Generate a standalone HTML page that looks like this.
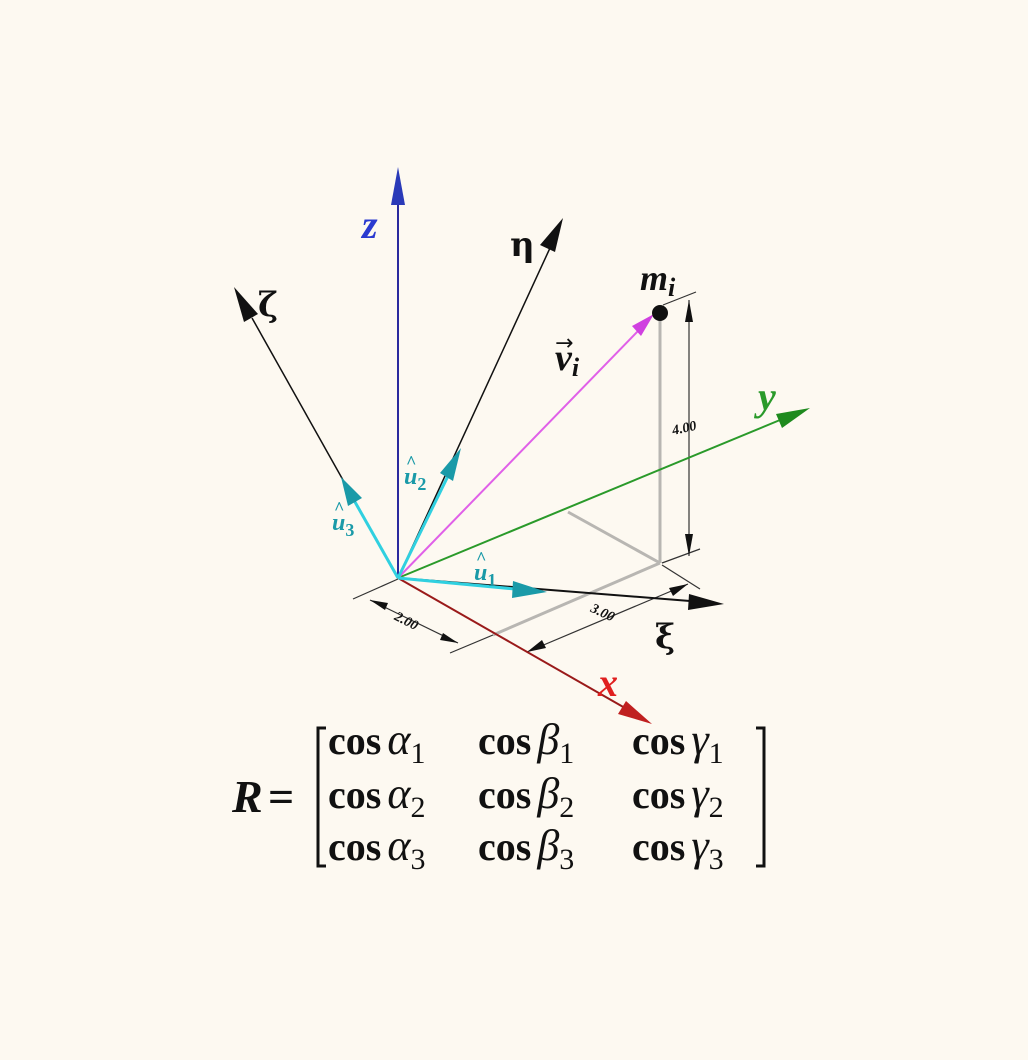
<!DOCTYPE html>
<html><head><meta charset="utf-8"><style>
html,body{margin:0;padding:0;background:#fdf9f1;}
svg{display:block}
</style></head><body>
<svg width="1028" height="1060" viewBox="0 0 1028 1060" xmlns="http://www.w3.org/2000/svg">
<rect width="1028" height="1060" fill="#fdf9f1"/>
<g stroke="#b8b6b2" stroke-width="3" fill="none">
<line x1="660" y1="316" x2="660" y2="563"/>
<line x1="660" y1="563" x2="568" y2="512"/>
<line x1="660" y1="563" x2="493" y2="635"/>
</g>
<g stroke="#333" stroke-width="1.2" fill="none">
<line x1="663" y1="305" x2="696" y2="292"/>
<line x1="662" y1="563" x2="700" y2="549"/>
<line x1="689" y1="300" x2="689" y2="556"/>
<line x1="353" y1="599" x2="398" y2="579"/>
<line x1="493" y1="635" x2="450" y2="653"/>
<line x1="370" y1="600" x2="458" y2="643"/>
<line x1="662" y1="565" x2="700" y2="589"/>
<line x1="527" y1="652" x2="688" y2="584"/>
</g>
<g fill="#111">
<polygon points="689,300 685,322 693,322"/>
<polygon points="689,556 685,534 693,534"/>
<polygon points="370,600 388,603 385,610"/>
<polygon points="458,643 440,640 443,633"/>
<polygon points="527,652 542,640 546,648"/>
<polygon points="688,584 673,596 669,588"/>
</g>
<g font-family="Liberation Serif, serif" font-weight="bold" font-style="italic" font-size="14" fill="#111">
<text x="672" y="432" transform="rotate(-12 686 428)">4.00</text>
<text x="394" y="627" transform="rotate(27 410 622)">2.00</text>
<text x="590" y="618" transform="rotate(25 605 614)">3.00</text>
</g>
<line x1="398" y1="578" x2="398" y2="200" stroke="#2a2a9e" stroke-width="2"/>
<polygon points="398,167 391,205 405,205" fill="#2a3ab8"/>
<line x1="398" y1="578" x2="550" y2="248" stroke="#111" stroke-width="1.5"/>
<polygon points="563,218 540,245 555,252" fill="#111"/>
<line x1="398" y1="578" x2="252" y2="318" stroke="#111" stroke-width="1.5"/>
<polygon points="234,287 244,322 258,314" fill="#111"/>
<line x1="398" y1="578" x2="780" y2="420" stroke="#2a9a2a" stroke-width="2"/>
<polygon points="810,408 776,414 782,428" fill="#1e8a1e"/>
<line x1="398" y1="578" x2="625" y2="708" stroke="#9a1a1a" stroke-width="2"/>
<polygon points="652,724 626,701 618,714" fill="#c02020"/>
<line x1="398" y1="578" x2="690" y2="601" stroke="#111" stroke-width="2"/>
<polygon points="724,604 689,594 688,610" fill="#111"/>
<line x1="398" y1="578" x2="638" y2="331" stroke="#e060e8" stroke-width="2"/>
<polygon points="654,314 632,326 641,336" fill="#d040e0"/>
<circle cx="660" cy="313" r="8" fill="#111"/>
<g stroke="#30d0e0" stroke-width="3">
<line x1="398" y1="578" x2="515" y2="589"/>
<line x1="398" y1="578" x2="448" y2="476"/>
<line x1="398" y1="578" x2="355" y2="502"/>
</g>
<polygon points="547,592 513,581 512,598" fill="#1a9aa8"/>
<polygon points="461,448 440,473 453,481" fill="#1a9aa8"/>
<polygon points="341,477 348,506 362,498" fill="#1a9aa8"/>
<g font-family="Liberation Serif, serif" font-style="italic" font-weight="bold">
<text x="362" y="238" font-size="40" fill="#2a3ad0">z</text>
<text x="758" y="410" font-size="40" fill="#2a9a2a">y</text>
<text x="598" y="696" font-size="40" fill="#e02020">x</text>
<text x="640" y="290" font-size="36" fill="#111">m<tspan font-size="26" dy="6">i</tspan></text>
<text x="555" y="370" font-size="38" fill="#111">v<tspan font-size="26" dy="6">i</tspan></text>
<text x="404" y="484" font-size="24" fill="#1a9aa8">u<tspan font-size="18" dy="6" font-style="normal">2</tspan></text>
<text x="332" y="530" font-size="24" fill="#1a9aa8">u<tspan font-size="18" dy="6" font-style="normal">3</tspan></text>
<text x="474" y="580" font-size="24" fill="#1a9aa8">u<tspan font-size="18" dy="6" font-style="normal">1</tspan></text>
</g>
<g font-family="Liberation Serif, serif" font-size="18" fill="#1a9aa8" font-weight="bold">
<text x="406" y="468">^</text><text x="334" y="514">^</text><text x="476" y="564">^</text>
</g>
<text x="555" y="350" font-family="DejaVu Sans, sans-serif" font-size="22" fill="#111">→</text>
<g font-family="DejaVu Serif, serif" font-size="34" font-weight="bold" fill="#111">
<text x="510" y="256">η</text>
<text x="258" y="316">ζ</text>
<text x="655" y="648">ξ</text>
</g>
<g font-family="Liberation Serif, serif" fill="#111">
<text x="232" y="812" font-size="46" font-weight="bold" font-style="italic">R</text>
<text x="268" y="812" font-size="46" font-weight="bold">=</text>
<path d="M326,728 H318 V866 H326" stroke="#111" stroke-width="3" fill="none"/>
<path d="M756,728 H764 V866 H756" stroke="#111" stroke-width="3" fill="none"/>
<g font-size="40" font-weight="bold">
<text x="328" y="754">cos<tspan dx="6" font-style="italic" font-size="44" font-weight="normal">α</tspan><tspan font-size="30" font-weight="normal" dy="9">1</tspan></text>
<text x="478" y="754">cos<tspan dx="6" font-style="italic" font-size="44" font-weight="normal">β</tspan><tspan font-size="30" font-weight="normal" dy="9">1</tspan></text>
<text x="632" y="754">cos<tspan dx="6" font-style="italic" font-size="44" font-weight="normal">γ</tspan><tspan font-size="30" font-weight="normal" dy="9">1</tspan></text>
<text x="328" y="808">cos<tspan dx="6" font-style="italic" font-size="44" font-weight="normal">α</tspan><tspan font-size="30" font-weight="normal" dy="9">2</tspan></text>
<text x="478" y="808">cos<tspan dx="6" font-style="italic" font-size="44" font-weight="normal">β</tspan><tspan font-size="30" font-weight="normal" dy="9">2</tspan></text>
<text x="632" y="808">cos<tspan dx="6" font-style="italic" font-size="44" font-weight="normal">γ</tspan><tspan font-size="30" font-weight="normal" dy="9">2</tspan></text>
<text x="328" y="860">cos<tspan dx="6" font-style="italic" font-size="44" font-weight="normal">α</tspan><tspan font-size="30" font-weight="normal" dy="9">3</tspan></text>
<text x="478" y="860">cos<tspan dx="6" font-style="italic" font-size="44" font-weight="normal">β</tspan><tspan font-size="30" font-weight="normal" dy="9">3</tspan></text>
<text x="632" y="860">cos<tspan dx="6" font-style="italic" font-size="44" font-weight="normal">γ</tspan><tspan font-size="30" font-weight="normal" dy="9">3</tspan></text>
</g>
</g>
</svg>
</body></html>
